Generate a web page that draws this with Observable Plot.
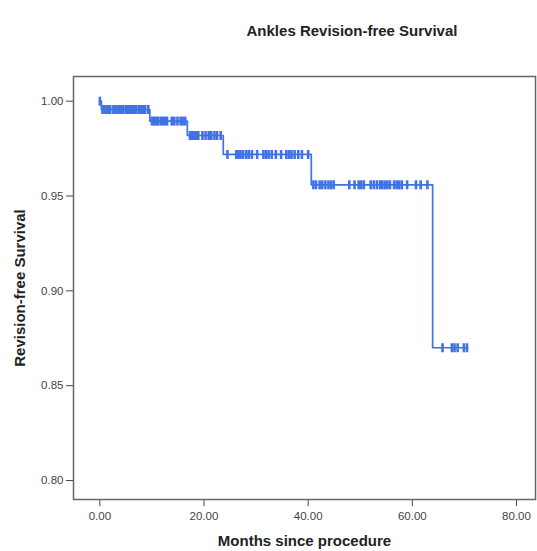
<!DOCTYPE html>
<html>
<head>
<meta charset="utf-8">
<script src="https://cdn.jsdelivr.net/npm/d3@7"></script>
<script src="https://cdn.jsdelivr.net/npm/@observablehq/plot@0.6"></script>
<style>
  body { margin: 0; background: white; font-family: "Liberation Sans", Arial, sans-serif; }
  #title { position: relative; width: 537px; height: 52px; }
  #title span { position: absolute; left: 352px; top: 22px; transform: translateX(-50%);
    font-weight: bold; font-size: 15px; color: #222; white-space: nowrap; }
</style>
</head>
<body>
<div id="title"><span>Ankles Revision-free Survival</span></div>
<div id="chart"></div>
<script>
// step points of the survival curve (month where the level starts, survival level)
const stepMonths = [0, 0.3, 9.6, 16.8, 23.7, 40.6, 63.9, 70.6];
const stepSurvival = [1.0, 0.9956, 0.9895, 0.9819, 0.9719, 0.9559, 0.870, 0.870];

// censored cases (months)
const censoredMonths = [
  0,
  0.5, 0.9, 1.3, 1.7, 2.0, 2.6, 3.0, 3.4, 3.8, 4.2, 4.5, 5.0, 5.4, 5.8, 6.2, 6.6, 7.0, 7.5, 7.9, 8.3, 8.7, 9.3,
  10.0, 10.4, 10.8, 11.2, 11.7, 12.1, 12.5, 12.9, 13.8, 14.3, 14.9, 15.5, 15.9, 16.4,
  17.3, 17.7, 18.1, 18.5, 18.9, 19.7, 20.3, 20.9, 21.4, 22.0, 22.5, 23.2,
  24.5, 26.2, 26.6, 27.0, 27.5, 28.1, 28.6, 29.2, 30.2, 31.4, 31.9, 32.4, 33.0, 33.8, 34.8,
  35.8, 36.3, 36.8, 37.4, 38.1, 38.8, 40.0,
  41.0, 41.5, 42.2, 42.7, 43.3, 43.9, 44.4, 44.9, 47.9, 48.9, 49.7, 50.2, 50.7, 52.0,
  52.6, 53.2, 53.8, 54.2, 54.7, 55.2, 55.7, 56.5, 57.0, 57.5, 58.0, 59.0, 60.7, 61.6, 62.9,
  65.8, 67.6, 68.1, 68.7, 69.9, 70.5
];

const xTicks = [0, 20, 40, 60, 80];
const yTicks = [0.80, 0.85, 0.90, 0.95, 1.00];

const steps = stepMonths.map((m, i) => ({month: m, surv: stepSurvival[i]}));
// survival level in effect at a given month
function levelAt(t) {
  let s = stepSurvival[0];
  stepMonths.forEach((m, i) => { if (m <= t) s = stepSurvival[i]; });
  return s;
}
const censored = censoredMonths.map(m => ({month: m, surv: levelAt(m)}));

// vertical bar symbol for censor marks
const vbar = {
  draw(ctx, size) {
    const r = Math.sqrt(size / Math.PI);
    ctx.moveTo(0, -r);
    ctx.lineTo(0, r);
  }
};

const blue = "#3f72e4";

const plot = Plot.plot({
  width: 537,
  height: 499,
  marginTop: 24,
  marginBottom: 52,
  marginLeft: 73,
  marginRight: 2,
  style: {fontFamily: "Liberation Sans, Arial, sans-serif", fontSize: "11.5px", color: "#444", background: "white"},
  x: {domain: [-5.06, 83.65], ticks: xTicks, tickSize: 7, tickPadding: 5, tickFormat: d => d.toFixed(2), label: null},
  y: {domain: [0.790, 1.013], ticks: yTicks, tickSize: 7, tickPadding: 3, tickFormat: d => d.toFixed(2), label: null},
  marks: [
    Plot.frame({stroke: "#666", strokeWidth: 1.5}),
    Plot.line(steps, {x: "month", y: "surv", curve: "step-after", stroke: blue, strokeWidth: 1.7}),
    Plot.dot(censored, {x: "month", y: "surv", symbol: vbar, r: 4.5, fill: "none", stroke: blue, strokeWidth: 2.6}),
    Plot.text(["Months since procedure"], {frameAnchor: "bottom", lineAnchor: "middle", dy: 42, fontWeight: "bold", fontSize: 15, fill: "#222"}),
    Plot.text(["Revision-free Survival"], {frameAnchor: "left", textAnchor: "middle", dx: -53, rotate: -90, fontWeight: "bold", fontSize: 15, fill: "#222"})
  ]
});

document.getElementById("chart").appendChild(plot);
</script>
</body>
</html>
